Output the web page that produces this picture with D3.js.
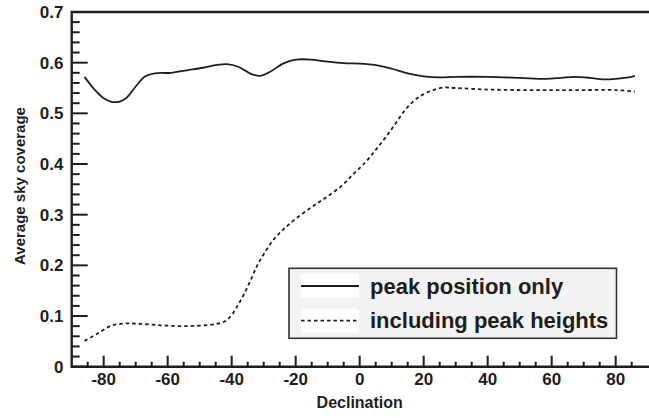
<!DOCTYPE html>
<html>
<head>
<meta charset="utf-8">
<script src="https://cdn.jsdelivr.net/npm/d3@7"></script>
<style>
  html, body { margin: 0; padding: 0; background: #fff; }
  svg { display: block; }
  text { font-family: "Liberation Sans", Arial, Helvetica, sans-serif; font-weight: bold; fill: #1e1e1e; }
</style>
</head>
<body>
<svg id="chart" width="649" height="418"></svg>
<script>
// Declination sample points (degrees)
const posDec = [-86, -83, -80, -76.5, -73, -70, -67, -64, -59, -54, -49, -44, -41.5, -38, -34, -31, -28, -24, -20, -15, -10, -5, 0, 5, 10, 15, 20, 25, 30, 40, 50, 58, 63, 67, 72, 76, 80, 84, 86];
// Average sky coverage, peak position only
const posCov = [0.572, 0.548, 0.530, 0.522, 0.530, 0.553, 0.573, 0.579, 0.580, 0.585, 0.590, 0.596, 0.597, 0.592, 0.578, 0.574, 0.582, 0.598, 0.606, 0.606, 0.602, 0.599, 0.598, 0.595, 0.588, 0.579, 0.573, 0.571, 0.572, 0.572, 0.570, 0.568, 0.570, 0.572, 0.570, 0.567, 0.568, 0.571, 0.574];

const hgtDec = [-86, -82, -78, -74, -70, -65, -60, -55, -50, -45, -42, -40, -38, -36, -34, -32, -30, -27, -24, -20, -15, -11, -6, -2, 2, 5, 8, 11, 14, 17, 20, 23, 26, 30, 40, 50, 60, 70, 80, 86];
// Average sky coverage, including peak heights
const hgtCov = [0.051, 0.065, 0.080, 0.085, 0.085, 0.083, 0.081, 0.080, 0.081, 0.084, 0.090, 0.102, 0.122, 0.145, 0.172, 0.200, 0.222, 0.250, 0.270, 0.292, 0.315, 0.332, 0.355, 0.380, 0.405, 0.428, 0.452, 0.478, 0.505, 0.525, 0.538, 0.546, 0.551, 0.550, 0.547, 0.546, 0.546, 0.546, 0.546, 0.543];

const xTicks = [-80, -60, -40, -20, 0, 20, 40, 60, 80];
const xTickLabels = ["-80", "-60", "-40", "-20", "0", "20", "40", "60", "80"];
const yTicks = [0, 0.1, 0.2, 0.3, 0.4, 0.5, 0.6, 0.7];
const yTickLabels = ["0", "0.1", "0.2", "0.3", "0.4", "0.5", "0.6", "0.7"];
const legendLabels = ["peak position only", "including peak heights"];

const svg = d3.select("#chart");
const mLeft = 71.7, mRight = 647.7, mTop = 12, mBottom = 366.7;

const x = d3.scaleLinear().domain([-90, 90]).range([mLeft, mRight]);
const y = d3.scaleLinear().domain([0, 0.7]).range([mBottom, mTop]);

const ink = "#1e1e1e";

// Curves
const line = d3.line().x(d => x(d[0])).y(d => y(d[1])).curve(d3.curveCatmullRom.alpha(0.5));
const posData = posDec.map((d, i) => [d, posCov[i]]);
const hgtData = hgtDec.map((d, i) => [d, hgtCov[i]]);

svg.append("path").attr("d", line(posData))
  .attr("fill", "none").attr("stroke", ink).attr("stroke-width", 1.8);
svg.append("path").attr("d", line(hgtData))
  .attr("fill", "none").attr("stroke", ink).attr("stroke-width", 1.8)
  .attr("stroke-dasharray", "3.5,3");

// Minor tick positions
const xMinor = d3.range(-85, 90, 5).filter(v => v % 20 !== 0);
const yMinor = d3.range(1, 35).filter(k => k % 5 !== 0).map(k => k * 0.02);

// Tick marks, all pointing into the plot
const tickG = svg.append("g").attr("fill", ink);
tickG.selectAll(".xM").data(xTicks).join("rect").attr("class", "xM")
  .attr("x", d => x(d) - 1).attr("y", mBottom - 11).attr("width", 2).attr("height", 11);
tickG.selectAll(".xm").data(xMinor).join("rect").attr("class", "xm")
  .attr("x", d => x(d) - 1).attr("y", mBottom - 5).attr("width", 2).attr("height", 5);
tickG.selectAll(".yM").data(yTicks).join("rect").attr("class", "yM")
  .attr("x", mLeft).attr("y", d => y(d) - 1).attr("width", 16).attr("height", 2);
tickG.selectAll(".ym").data(yMinor).join("rect").attr("class", "ym")
  .attr("x", mLeft).attr("y", d => y(d) - 1).attr("width", 8).attr("height", 2);

// Frame: left, bottom and top lines
const fp = d3.path();
fp.moveTo(649, mTop); fp.lineTo(mLeft, mTop); fp.lineTo(mLeft, mBottom); fp.lineTo(649, mBottom);
svg.append("path").attr("d", fp.toString())
  .attr("fill", "none").attr("stroke", ink).attr("stroke-width", 2.4);

// Tick labels
svg.append("g").selectAll("text").data(xTicks).join("text")
  .attr("x", d => x(d)).attr("y", 385).attr("text-anchor", "middle").attr("font-size", 17)
  .text((d, i) => xTickLabels[i]);
svg.append("g").selectAll("text").data(yTicks).join("text")
  .attr("x", 63.5).attr("y", d => y(d) + 6).attr("text-anchor", "end").attr("font-size", 17)
  .text((d, i) => yTickLabels[i]);

// Axis titles
svg.append("text").attr("x", x(0)).attr("y", 407.5).attr("text-anchor", "middle")
  .attr("font-size", 16).text("Declination");
svg.append("text").attr("transform", `translate(25,186) rotate(-90)`)
  .attr("text-anchor", "middle").attr("font-size", 15).text("Average sky coverage");

// Legend
const lg = svg.append("g");
lg.append("rect").attr("x", 289).attr("y", 268.3).attr("width", 327.5).attr("height", 70)
  .attr("fill", "#f3f3f3").attr("stroke", "#333").attr("stroke-width", 1.6);
const rows = [
  { label: legendLabels[0], cy: 286, dash: null },
  { label: legendLabels[1], cy: 320.7, dash: "3.5,3" }
];
rows.forEach(r => {
  lg.append("rect").attr("x", 301).attr("y", r.cy - 12).attr("width", 58).attr("height", 24).attr("fill", "#fff");
  lg.append("line").attr("x1", 301).attr("x2", 359).attr("y1", r.cy).attr("y2", r.cy)
    .attr("stroke", ink).attr("stroke-width", 1.8).attr("stroke-dasharray", r.dash);
  lg.append("text").attr("x", 370).attr("y", r.cy + 7.5).attr("font-size", 22).text(r.label);
});
</script>
</body>
</html>
